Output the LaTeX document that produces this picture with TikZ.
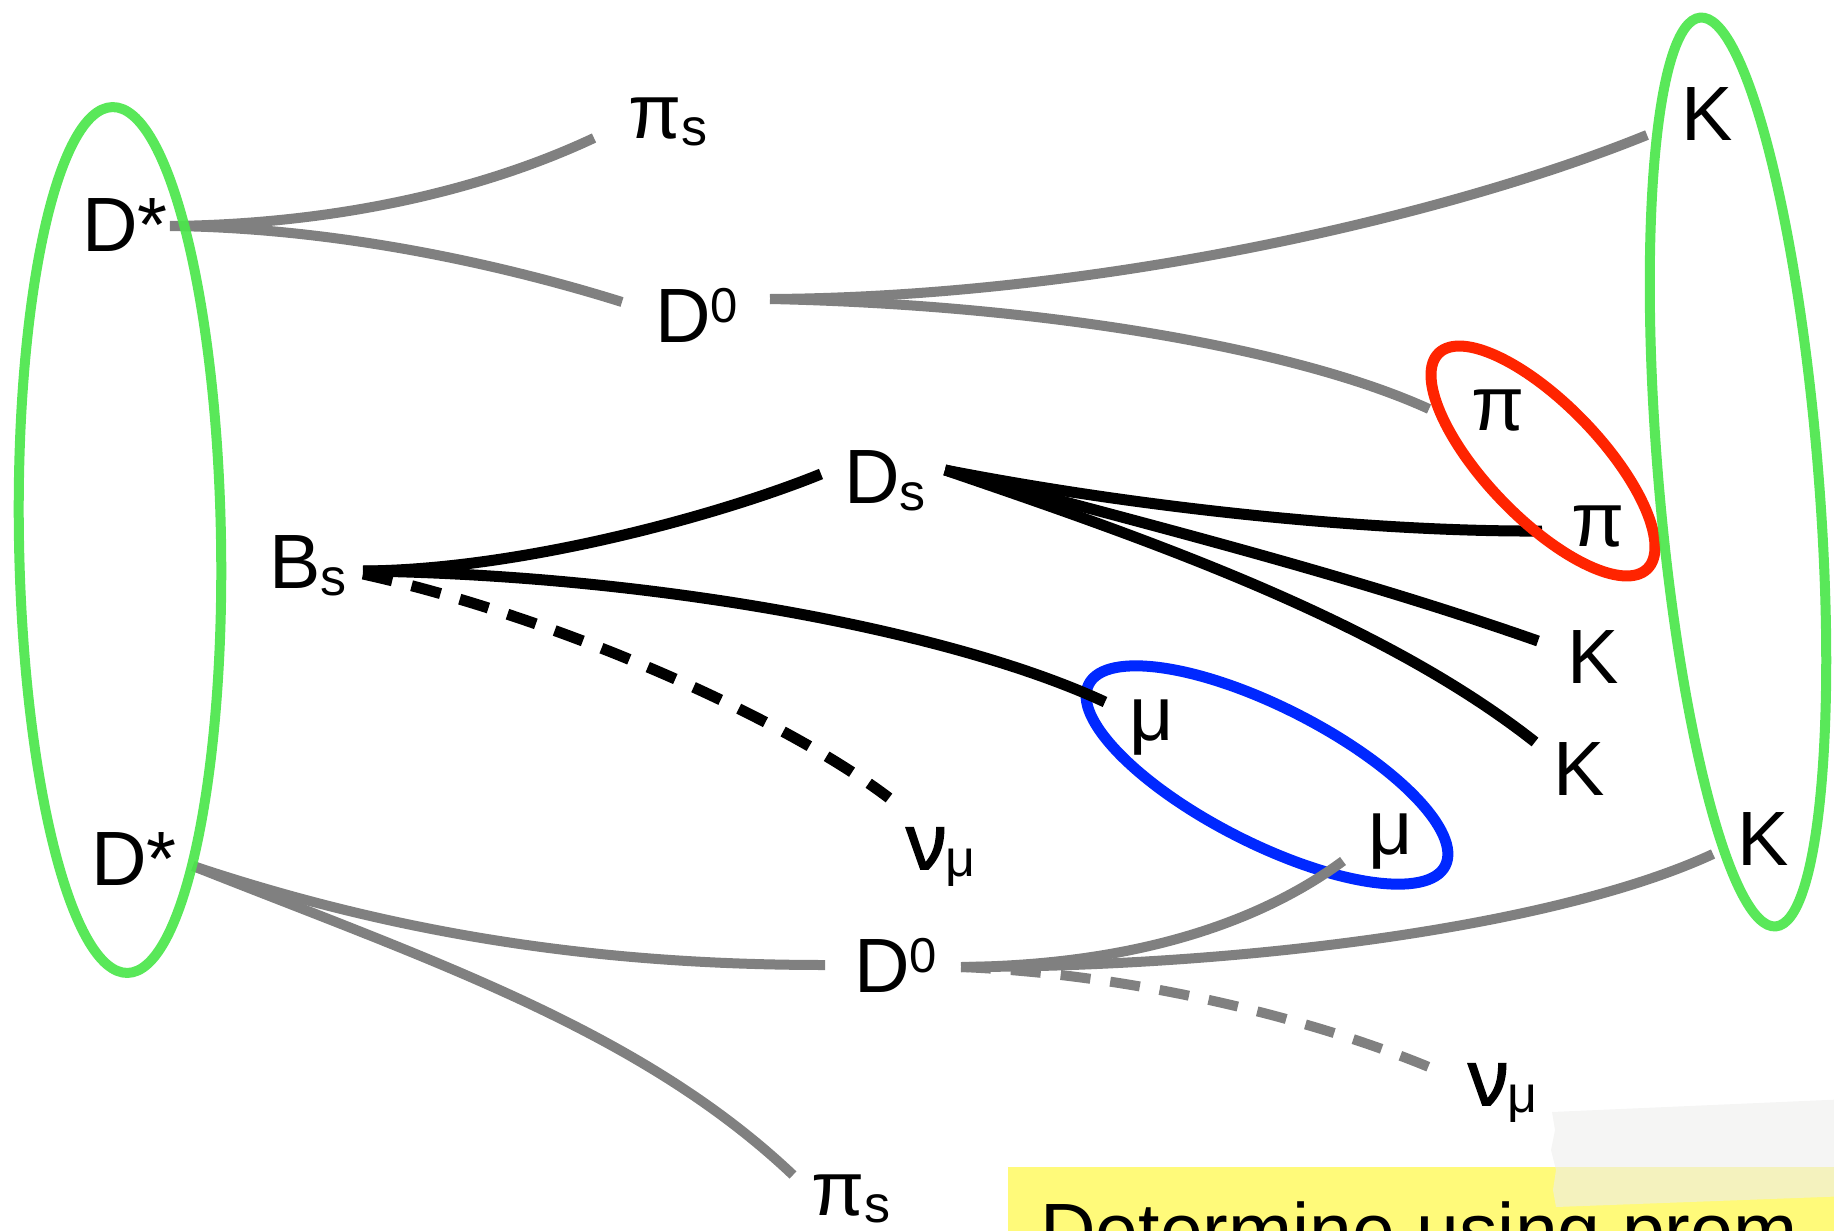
\documentclass[tikz,border=0pt]{standalone}
\usepackage{fontspec}
\setmainfont{Liberation Sans}
\newfontfamily\nufont[FakeBold=2.2]{Noto Sans}
\definecolor{linegray}{RGB}{128,128,128}
\definecolor{ringgreen}{RGB}{75,230,75}
\definecolor{ringred}{RGB}{255,36,0}
\definecolor{ringblue}{RGB}{0,40,255}
\definecolor{noteyellow}{RGB}{255,250,122}
\definecolor{tapegray}{RGB}{238,238,236}
\newcommand\lblsize{\fontsize{77}{80}\selectfont}
\newcommand\lowidx[1]{\raisebox{-7pt}{\fontsize{52}{52}\selectfont #1}}
\newcommand\hiidx[1]{\raisebox{20pt}{\fontsize{49}{49}\selectfont #1}}
\newcommand\nulbl{{\nufont ν}\lowidx{μ}}
\begin{document}
\begin{tikzpicture}[x=1pt,y=-1pt,
  lbl/.style={anchor=base west, inner sep=0pt, font=\lblsize},
  grayline/.style={draw=linegray, line width=10pt},
  blackline/.style={draw=black, line width=11pt},
  dashline/.style={dash pattern=on 30pt off 20pt},
  greenring/.style={draw=ringgreen, line width=10pt, draw opacity=0.92},
  redring/.style={draw=ringred, line width=11pt},
  bluering/.style={draw=ringblue, line width=11pt}]
\useasboundingbox (0,0) rectangle (1834,1231);
\clip (0,0) rectangle (1834,1231);

% labels
\node[lbl] (pis1) at (628,138) {π\lowidx{s}};
\node[lbl] (dst1) at (82,251) {D*};
\node[lbl] (dz1) at (655,342) {D\hiidx{0}};
\node[lbl] (k1) at (1681,140) {K};
\node[lbl] (pi1) at (1471,430) {π};
\node[lbl] (pi2) at (1571,546) {π};
\node[lbl] (ds) at (844,503) {D\lowidx{s}};
\node[lbl] (bs) at (269,588) {B\lowidx{s}};
\node[lbl] (k2) at (1567,683) {K};
\node[lbl] (k3) at (1553,795) {K};
\node[lbl] (mu1) at (1129,740) {μ};
\node[lbl] (mu2) at (1368,854) {μ};
\node[lbl] (dst2) at (91,885) {D*};
\node[lbl] (k4) at (1737,865) {K};
\node[lbl] (nu1) at (906,869) {\nulbl};
\node[lbl] (dz2) at (854,992) {D\hiidx{0}};
\node[lbl] (nu2) at (1468,1105) {\nulbl};
\node[lbl] (pis2) at (811,1215) {π\lowidx{s}};

% line end points beside the labels
\coordinate (dst1-r) at (170,226);
\coordinate (pis1-l) at (594,138);
\coordinate (dz1-l) at (622,302);
\coordinate (dz1-r) at (770,299);
\coordinate (k1-l) at (1647,135);
\coordinate (pi1-l) at (1429,409);
\coordinate (ds-r) at (945,470);
\coordinate (pi2-l) at (1542,531);
\coordinate (k2-l) at (1538,641);
\coordinate (k3-l) at (1535,742);
\coordinate (bs-r) at (363,571);
\coordinate (bs-rd) at (363,574);
\coordinate (ds-l) at (821,474);
\coordinate (mu1-l) at (1105,702);
\coordinate (nu1-l) at (889,798);
\coordinate (dst2-r) at (193,866);
\coordinate (dz2-l) at (825,965);
\coordinate (pis2-l) at (793,1175);
\coordinate (dz2-r) at (961,967);
\coordinate (k4-l) at (1713,854);
\coordinate (mu2-l) at (1343,861);
\coordinate (nu2-l) at (1436,1070);

% muon pair ring (under the lines)
\draw[bluering, rotate around={-27:(1267,775)}] (1267,775) ellipse [x radius=200, y radius=68];

% upper D* chain
\draw[grayline] (dst1-r) .. controls (350,224) and (494,185) .. (pis1-l);
\draw[grayline] (dst1-r) .. controls (350,228) and (520,270) .. (dz1-l);
\draw[grayline] (dz1-r) .. controls (1100,297) and (1450,215) .. (k1-l);
\draw[grayline] (dz1-r) .. controls (1050,305) and (1300,350) .. (pi1-l);

% B_s chain
\draw[blackline] (ds-r) .. controls (1150,510) and (1380,532) .. (pi2-l);
\draw[blackline] (ds-r) .. controls (1150,525) and (1350,575) .. (k2-l);
\draw[blackline] (ds-r) .. controls (1150,540) and (1380,620) .. (k3-l);
\draw[blackline] (bs-r) .. controls (520,570) and (720,515) .. (ds-l);
\draw[blackline] (bs-r) .. controls (650,575) and (950,630) .. (mu1-l);
\draw[blackline, dashline] (bs-rd) .. controls (550,615) and (780,715) .. (nu1-l);

% lower D* chain
\draw[grayline] (dst2-r) .. controls (400,935) and (600,965) .. (dz2-l);
\draw[grayline] (dst2-r) .. controls (430,960) and (640,1030) .. (pis2-l);
\draw[grayline] (dz2-r) .. controls (1250,967) and (1560,925) .. (k4-l);
\draw[grayline] (dz2-r) .. controls (1150,965) and (1270,915) .. (mu2-l);
\draw[grayline, dashline] (dz2-r) .. controls (1150,975) and (1330,1025) .. (nu2-l);

% rings
\draw[redring, rotate around={-46:(1543,461)}] (1543,461) ellipse [x radius=150, y radius=57];
\draw[greenring, rotate around={1:(120,540)}] (120,540) ellipse [x radius=101, y radius=433];
\draw[greenring, rotate around={4.75:(1738,472)}] (1738,472) ellipse [x radius=80, y radius=456];

% note with tape
\fill[noteyellow] (1008,1167) rectangle (1850,1260);
\node[anchor=base west, inner sep=0pt, font=\lblsize] (note) at (1040,1257) {Determine using prom};
\fill[tapegray, opacity=0.6] (1552,1112) -- (1850,1099) -- (1850,1196) -- (1556,1207)
  -- (1553,1190) -- (1556,1170) -- (1551,1150) -- (1555,1130) -- cycle;
\end{tikzpicture}
\end{document}
